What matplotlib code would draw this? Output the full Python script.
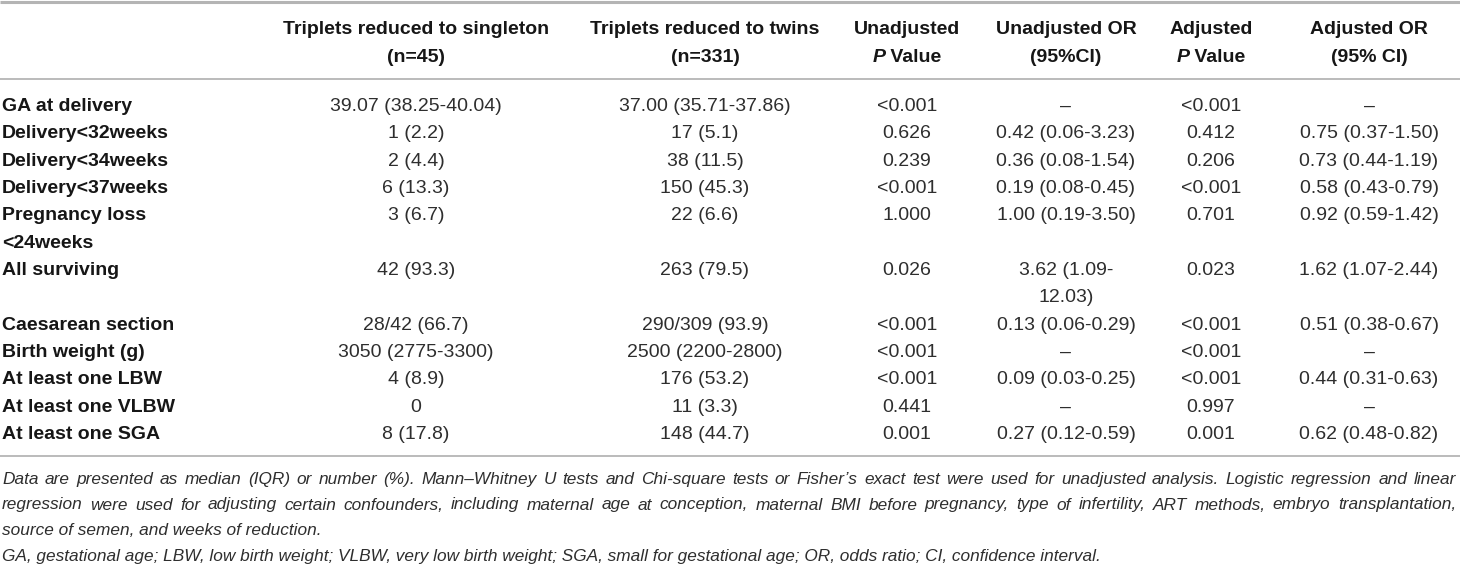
import matplotlib
matplotlib.use("Agg")
import matplotlib.pyplot as plt

# ---------------- data ----------------
row_labels = ["GA at delivery", "Delivery<32weeks", "Delivery<34weeks", "Delivery<37weeks",
              "Pregnancy loss\n<24weeks", "All surviving", "Caesarean section", "Birth weight (g)",
              "At least one LBW", "At least one VLBW", "At least one SGA"]
singleton = ["39.07 (38.25-40.04)", "1 (2.2)", "2 (4.4)", "6 (13.3)", "3 (6.7)", "42 (93.3)",
             "28/42 (66.7)", "3050 (2775-3300)", "4 (8.9)", "0", "8 (17.8)"]
twins = ["37.00 (35.71-37.86)", "17 (5.1)", "38 (11.5)", "150 (45.3)", "22 (6.6)", "263 (79.5)",
         "290/309 (93.9)", "2500 (2200-2800)", "176 (53.2)", "11 (3.3)", "148 (44.7)"]
unadj_p = ["<0.001", "0.626", "0.239", "<0.001", "1.000", "0.026", "<0.001", "<0.001",
           "<0.001", "0.441", "0.001"]
unadj_or = ["–", "0.42 (0.06-3.23)", "0.36 (0.08-1.54)", "0.19 (0.08-0.45)", "1.00 (0.19-3.50)",
            "3.62 (1.09-\n12.03)", "0.13 (0.06-0.29)", "–", "0.09 (0.03-0.25)", "–", "0.27 (0.12-0.59)"]
adj_p = ["<0.001", "0.412", "0.206", "<0.001", "0.701", "0.023", "<0.001", "<0.001",
         "<0.001", "0.997", "0.001"]
adj_or = ["–", "0.75 (0.37-1.50)", "0.73 (0.44-1.19)", "0.58 (0.43-0.79)", "0.92 (0.59-1.42)",
          "1.62 (1.07-2.44)", "0.51 (0.38-0.67)", "–", "0.44 (0.31-0.63)", "–", "0.62 (0.48-0.82)"]

headers = [None,
           ["Triplets reduced to singleton", "(n=45)"],
           ["Triplets reduced to twins", "(n=331)"],
           ["Unadjusted", "*P* Value"],
           ["Unadjusted OR", "(95%CI)"],
           ["Adjusted", "*P* Value"],
           ["Adjusted OR", "(95% CI)"]]

footnotes = [
    "Data are presented as median (IQR) or number (%). Mann–Whitney U tests and Chi-square tests or Fisher’s exact test were used for unadjusted analysis. Logistic regression and linear",
    "regression were used for adjusting certain confounders, including maternal age at conception, maternal BMI before pregnancy, type of infertility, ART methods, embryo transplantation,",
    "source of semen, and weeks of reduction.",
    "GA, gestational age; LBW, low birth weight; VLBW, very low birth weight; SGA, small for gestational age; OR, odds ratio; CI, confidence interval.",
]
justified = [True, True, False, False]

# ---------------- layout ----------------
W, H = 1460, 566
FONT = ["Liberation Sans", "DejaVu Sans"]
FS = 14
FS_NOTE = 12.4
TXT = "#2e2e2e"
BOLDC = "#161616"
RULE = "#a8a8a8"

col_x = [2, 416, 705, 907, 1066, 1211, 1369]
first_base = 111
line_h = 27.33
head_base = [34, 62]
note_base = [484, 509.5, 535, 560.5]
note_left, note_right = 2, 1456

fig = plt.figure(figsize=(W / 100, H / 100), dpi=100)
ax = fig.add_axes([0, 0, 1, 1])
ax.set_xlim(0, W)
ax.set_ylim(H, 0)
ax.axis("off")

renderer = fig.canvas.get_renderer()

# rules
ax.plot([0, W], [1.5, 1.5], color="#b4b4b4", lw=2.2, solid_capstyle="butt")
ax.plot([0, W], [79, 79], color=RULE, lw=1.1, solid_capstyle="butt")
ax.plot([0, W], [456, 456], color=RULE, lw=1.1, solid_capstyle="butt")


def text_width(s, **kw):
    t = ax.text(0, 0, s, **kw)
    bb = t.get_window_extent(renderer)
    t.remove()
    return bb.width


# headers
for ci, hdr in enumerate(headers):
    if hdr is None:
        continue
    for li, line in enumerate(hdr):
        y = head_base[li]
        if line.startswith("*P*"):
            rest = line[3:]
            kw = dict(fontfamily=FONT, fontsize=FS, fontweight="bold", color=BOLDC)
            wp = text_width("P", fontstyle="italic", **kw)
            wr = text_width(rest, **kw)
            x0 = col_x[ci] - (wp + wr) / 2
            ax.text(x0, y, "P", ha="left", va="baseline", fontstyle="italic", **kw)
            ax.text(x0 + wp, y, rest, ha="left", va="baseline", **kw)
        else:
            ax.text(col_x[ci], y, line, ha="center", va="baseline", fontfamily=FONT,
                    fontsize=FS, fontweight="bold", color=BOLDC)

# body
columns = [singleton, twins, unadj_p, unadj_or, adj_p, adj_or]
line_idx = 0
for ri in range(len(row_labels)):
    cells = [row_labels[ri]] + [c[ri] for c in columns]
    nlines = max(len(c.split("\n")) for c in cells)
    for ci, cell in enumerate(cells):
        for k, part in enumerate(cell.split("\n")):
            y = first_base + (line_idx + k) * line_h
            if ci == 0:
                ax.text(col_x[0], y, part, ha="left", va="baseline", fontfamily=FONT,
                        fontsize=FS, fontweight="bold", color=BOLDC)
            else:
                ax.text(col_x[ci], y, part, ha="center", va="baseline", fontfamily=FONT,
                        fontsize=FS, color=TXT)
    line_idx += nlines

# footnotes (first two lines justified to the table width)
nkw = dict(fontfamily=FONT, fontsize=FS_NOTE, fontstyle="italic", color=TXT)
for y, note, just in zip(note_base, footnotes, justified):
    if not just:
        ax.text(note_left, y, note, ha="left", va="baseline", **nkw)
        continue
    words = note.split(" ")
    widths = [text_width(w, **nkw) for w in words]
    gap = (note_right - note_left - sum(widths)) / (len(words) - 1)
    x = note_left
    for w, wd in zip(words, widths):
        ax.text(x, y, w, ha="left", va="baseline", **nkw)
        x += wd + gap

fig.savefig("out.png", dpi=100)
